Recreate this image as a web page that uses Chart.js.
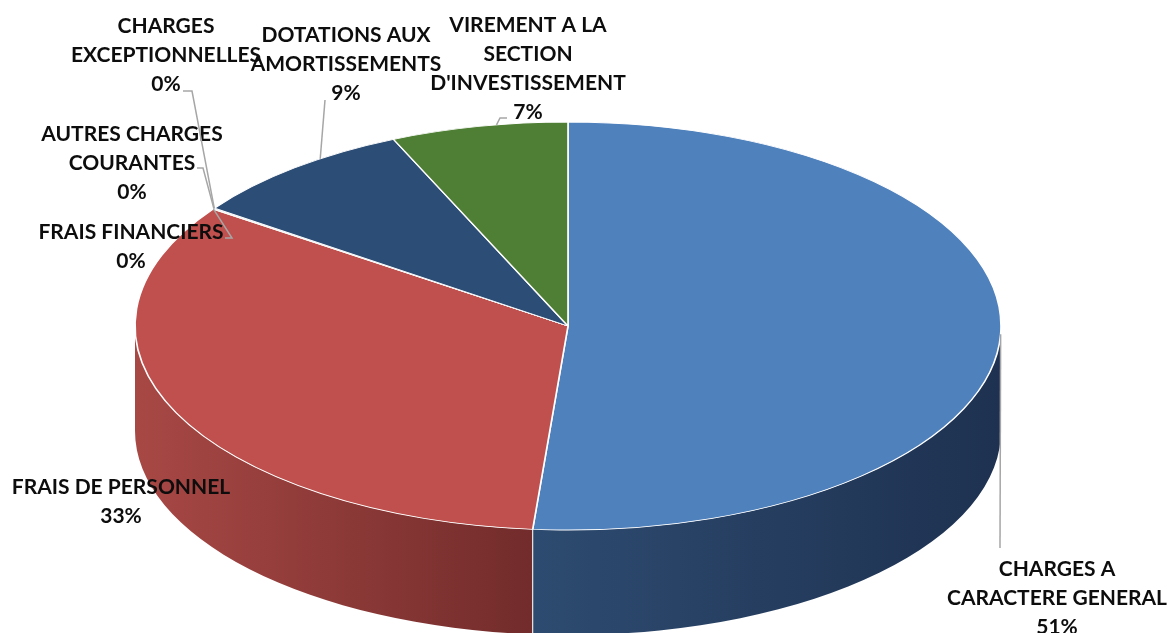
<!DOCTYPE html>
<html>
<head>
<meta charset="utf-8">
<script src="https://cdn.jsdelivr.net/npm/chart.js@4.4.1/dist/chart.umd.min.js"></script>
<style>
  html, body { margin: 0; background: #fff; }
  #wrap { width: 1169px; height: 633px; position: relative; }
</style>
</head>
<body>
<div id="wrap"><canvas id="chart"></canvas></div>
<script>
// data (percent of total)
const categories = [
  ["CHARGES A", "CARACTERE GENERAL"],
  ["FRAIS DE PERSONNEL"],
  ["FRAIS FINANCIERS"],
  ["AUTRES CHARGES", "COURANTES"],
  ["CHARGES", "EXCEPTIONNELLES"],
  ["DOTATIONS AUX", "AMORTISSEMENTS"],
  ["VIREMENT A LA", "SECTION", "D'INVESTISSEMENT"]
]
const values = [51.3, 33.4, 0.05, 0.02, 0.03, 8.6, 6.6]

// styles
const topColors  = ["#4F81BD", "#C0504D", "#9BBB59", "#8064A2", "#4BACC6", "#2C4D75", "#4F7F34"]
const sideColors = [
  ["#2D4B70", "#1E3150"], ["#A84845", "#722C2B"], ["#6F8A3E", "#4F6329"],
  ["#5C4775", "#403152"], ["#357C8F", "#245766"], ["#1F3855", "#15273C"], ["#385A24", "#273F19"]
]

// 3D layout (ellipse of the top face, depth of the side)
const CX = 568, CY = 326, RX = 433, RY = 204, DEPTH = 105
const LINE_H = 29
// label layout: text centre x, first line centre y, where the leader starts inside the slice (0..1), leader points
const labelLayout = [
  { x: 1057, y: 569, at: 0.5,  path: [[1000, 548]] },
  { x: 121,  y: 487, at: 0.5,  path: null },
  { x: 131,  y: 232, at: 0.5,  path: [[232, 238], [225, 238]] },
  { x: 132,  y: 134, at: 0.5,  path: [[203, 168], [197, 168]] },
  { x: 166,  y: 26,  at: 0.5,  path: [[192, 91], [183, 91]] },
  { x: 346,  y: 35,  at: 0.64, path: [[325, 100]] },
  { x: 528,  y: 25,  at: 0.6,  path: [[500, 118], [507, 118]] }
]

const pie3d = {
  id: "pie3d",
  beforeDatasetsDraw(chart) {
    const ctx  = chart.ctx
    const arcs = chart.getDatasetMeta(0).data
    const { x, y, outerRadius: r } = arcs[0]

    // side walls: only the front half (0..PI) is visible
    arcs.forEach((arc, i) => {
      const a0 = Math.max(arc.startAngle, 0)
      const a1 = Math.min(arc.endAngle, Math.PI)
      if (a1 <= a0) return
      const xr = CX + RX * Math.cos(a0)
      const xl = CX + RX * Math.cos(a1)
      const g = ctx.createLinearGradient(xl, 0, xr, 0)
      g.addColorStop(0, sideColors[i][0])
      g.addColorStop(1, sideColors[i][1])
      ctx.beginPath()
      ctx.ellipse(CX, CY, RX, RY, 0, a0, a1)
      ctx.ellipse(CX, CY + DEPTH, RX, RY, 0, a1, a0, true)
      ctx.closePath()
      ctx.fillStyle = g
      ctx.fill()
    })
    // seams between the walls
    ctx.strokeStyle = "rgba(255,255,255,0.85)"
    ctx.lineWidth = 1.2
    arcs.forEach(arc => {
      const a = arc.endAngle
      if (a <= 0 || a >= Math.PI) return
      const sx = CX + RX * Math.cos(a), sy = CY + RY * Math.sin(a)
      ctx.beginPath()
      ctx.moveTo(sx, sy)
      ctx.lineTo(sx, sy + DEPTH)
      ctx.stroke()
    })

    // squash the flat pie into the top face
    ctx.save()
    ctx.translate(CX, CY)
    ctx.scale(RX / r, RY / r)
    ctx.translate(-x, -y)
  },

  afterDatasetsDraw(chart) {
    const ctx  = chart.ctx
    ctx.restore()
    const arcs = chart.getDatasetMeta(0).data
    const total = values.reduce((a, b) => a + b, 0)

    arcs.forEach((arc, i) => {
      const lay = labelLayout[i]
      if (lay.path) {
        const a  = arc.startAngle + (arc.endAngle - arc.startAngle) * lay.at
        ctx.beginPath()
        ctx.moveTo(CX + RX * Math.cos(a), CY + RY * Math.sin(a))
        lay.path.forEach(p => ctx.lineTo(p[0], p[1]))
        ctx.strokeStyle = "#A6A6A6"
        ctx.lineWidth = 1.5
        ctx.stroke()
      }
      const lines = categories[i].concat([Math.round(values[i] / total * 100) + "%"])
      ctx.font = "bold 21px Lato"
      ctx.fillStyle = "#0D0D0D"
      ctx.textAlign = "center"
      ctx.textBaseline = "middle"
      lines.forEach((t, k) => ctx.fillText(t, lay.x, lay.y + k * LINE_H))
    })
  }
}

new Chart(document.getElementById("chart"), {
  type: "pie",
  data: {
    labels: categories,
    datasets: [{
      data: values,
      backgroundColor: topColors,
      borderColor: "#FFFFFF",
      borderWidth: 1.2,
      clip: false
    }]
  },
  options: {
    responsive: true,
    maintainAspectRatio: false,
    animation: false,
    events: [],
    layout: { padding: 0 },
    plugins: {
      legend:  { display: false },
      tooltip: { enabled: false }
    }
  },
  plugins: [pie3d]
})
</script>
</body>
</html>
